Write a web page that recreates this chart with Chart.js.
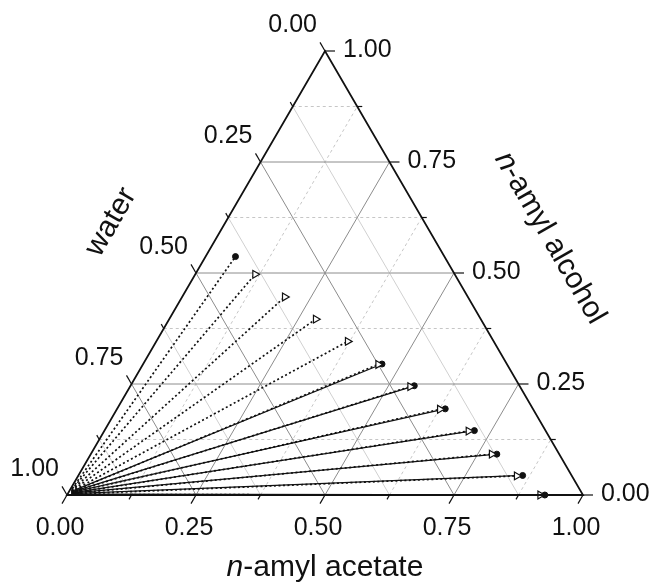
<!DOCTYPE html>
<html>
<head>
<meta charset="utf-8">
<script src="https://cdn.jsdelivr.net/npm/chart.js@4/dist/chart.umd.min.js"></script>
<style>
  html, body { margin: 0; padding: 0; background: #fff; }
  #wrap { width: 652px; height: 585px; position: relative; }
</style>
</head>
<body>
<div id="wrap"><canvas id="ternary"></canvas></div>
<script>
// tie lines, top to bottom. mole fractions of n-amyl acetate / n-amyl alcohol
// organic phase, calculated (open triangles), null = not shown
const calcAcetate = [null, 0.116, 0.199, 0.284, 0.371, 0.456, 0.543, 0.626, 0.706, 0.777, 0.850, 0.917];
const calcAlcohol = [null, 0.497, 0.446, 0.396, 0.346, 0.294, 0.244, 0.193, 0.144, 0.092, 0.043, 0.000];
// organic phase, experimental (filled circles)
const expAcetate = [0.058, null, null, null, null, 0.463, 0.550, 0.636, 0.717, 0.787, 0.861, 0.926];
const expAlcohol = [0.537, null, null, null, null, 0.295, 0.246, 0.194, 0.145, 0.092, 0.044, 0.000];
// water-rich phase ends
const aqAcetate = [0.003, 0.003, 0.004, 0.004, 0.005, 0.005, 0.006, 0.006, 0.007, 0.007, 0.008, 0.008];
const aqAlcohol = [0.014, 0.012, 0.011, 0.009, 0.008, 0.007, 0.006, 0.005, 0.004, 0.003, 0.002, 0.001];

const majorTicks = [0, 0.25, 0.5, 0.75, 1];
const tickLabels = ['0.00', '0.25', '0.50', '0.75', '1.00'];
const minorTicks = [0.125, 0.375, 0.625, 0.875];

const SQ3 = Math.sqrt(3) / 2;
const toXY = (acet, alc) => ({ x: acet + alc / 2, y: alc * SQ3 });

const datasets = [];
calcAcetate.forEach((c, i) => {
    if (c === null) return;
    datasets.push({
        data: [toXY(aqAcetate[i], aqAlcohol[i]), toXY(c, calcAlcohol[i])],
        showLine: true, borderColor: '#111', borderWidth: 1.7, borderDash: [2, 2.5],
        pointRadius: 0, order: 2, clip: false
    });
});
expAcetate.forEach((c, i) => {
    if (c === null) return;
    const alone = calcAcetate[i] === null;
    datasets.push({
        data: [toXY(aqAcetate[i], aqAlcohol[i] + 0.001), toXY(c, expAlcohol[i])],
        showLine: true, borderColor: '#111', borderWidth: alone ? 1.7 : 1.3,
        borderDash: alone ? [2, 2.5] : [],
        pointRadius: 0, order: 2, clip: false
    });
});
datasets.push({
    data: calcAcetate.map((c, i) => c === null ? null : toXY(c, calcAlcohol[i])).filter(Boolean),
    pointStyle: 'triangle', rotation: 90, pointRadius: 4.5,
    backgroundColor: '#fff', borderColor: '#111', borderWidth: 1.2, order: 0, clip: false
});
datasets.push({
    data: expAcetate.map((c, i) => c === null ? null : toXY(c, expAlcohol[i])).filter(Boolean),
    pointStyle: 'circle', pointRadius: 3,
    backgroundColor: '#111', borderColor: '#111', borderWidth: 1, order: 1, clip: false
});

const FONT = '"Liberation Sans", Arial, sans-serif';

function line(ctx, a, b) {
    ctx.beginPath();
    ctx.moveTo(a[0], a[1]);
    ctx.lineTo(b[0], b[1]);
    ctx.stroke();
}

// axis title, centred at (x, y); an italic "n" prefix when given
function axisTitle(ctx, x, y, prefix, rest, angle) {
    ctx.save();
    ctx.translate(x, y);
    ctx.rotate(angle);
    ctx.textBaseline = 'middle';
    ctx.textAlign = 'left';
    ctx.font = 'italic 30px ' + FONT;
    const wn = prefix ? ctx.measureText(prefix).width : 0;
    ctx.font = '30px ' + FONT;
    const wr = ctx.measureText(rest).width;
    const x0 = -(wn + wr) / 2;
    if (prefix) {
        ctx.font = 'italic 30px ' + FONT;
        ctx.fillText(prefix, x0, 0);
        ctx.font = '30px ' + FONT;
    }
    ctx.fillText(rest, x0 + wn, 0);
    ctx.restore();
}

const ternaryFrame = {
    id: 'ternaryFrame',
    beforeDatasetsDraw(chart) {
        const { ctx, scales: { x, y } } = chart;
        const px = (acet, alc) => { const p = toXY(acet, alc); return [x.getPixelForValue(p.x), y.getPixelForValue(p.y)]; };
        ctx.save();
        ctx.lineWidth = 1;
        // minor grid
        minorTicks.forEach(v => {
            ctx.strokeStyle = '#c6c6c6';
            ctx.setLineDash([3, 3]);
            line(ctx, px(0, v), px(1 - v, v));
            line(ctx, px(v, 0), px(v, 1 - v));
            ctx.setLineDash([]);
            ctx.strokeStyle = '#d0d0d0';
            line(ctx, px(1 - v, 0), px(0, 1 - v));
        });
        // major grid
        ctx.strokeStyle = '#8c8c8c';
        [0.25, 0.5, 0.75].forEach(v => {
            line(ctx, px(0, v), px(1 - v, v));
            line(ctx, px(v, 0), px(v, 1 - v));
            line(ctx, px(1 - v, 0), px(0, 1 - v));
        });
        ctx.restore();
    },
    afterDatasetsDraw(chart) {
        const { ctx, scales: { x, y } } = chart;
        const px = (acet, alc) => { const p = toXY(acet, alc); return [x.getPixelForValue(p.x), y.getPixelForValue(p.y)]; };
        ctx.save();
        ctx.strokeStyle = '#111';
        ctx.lineWidth = 1.8;
        ctx.beginPath();
        const bl = px(0, 0), br = px(1, 0), top = px(0, 1);
        ctx.moveTo(bl[0], bl[1]); ctx.lineTo(br[0], br[1]); ctx.lineTo(top[0], top[1]); ctx.closePath();
        ctx.stroke();

        // ticks
        ctx.lineWidth = 1.2;
        const tick = (v, len) => {
            const b = px(v, 0), r = px(1 - v, v), l = px(0, 1 - v);
            line(ctx, b, [b[0] - 0.5 * len, b[1] + SQ3 * len]);
            line(ctx, r, [r[0] + len, r[1]]);
            line(ctx, l, [l[0] - 0.5 * len, l[1] - SQ3 * len]);
        };
        majorTicks.forEach(v => tick(v, 10));
        minorTicks.forEach(v => tick(v, 5));

        // tick labels
        ctx.fillStyle = '#111';
        ctx.font = '25px ' + FONT;
        ctx.textBaseline = 'middle';
        majorTicks.forEach((v, i) => {
            const b = px(v, 0), r = px(1 - v, v), l = px(0, 1 - v);
            ctx.textAlign = 'center';
            ctx.fillText(tickLabels[i], b[0] - 7, b[1] + 33);
            ctx.textAlign = 'left';
            ctx.fillText(tickLabels[i], r[0] + 18, r[1] - 1);
            ctx.textAlign = 'right';
            ctx.fillText(tickLabels[i], l[0] - 8, l[1] - 26);
        });

        // axis titles
        axisTitle(ctx, (bl[0] + br[0]) / 2, bl[1] + 73, 'n', '-amyl acetate', 0);
        axisTitle(ctx, top[0] - 214, top[1] + 171, '', 'water', -Math.PI / 3);
        axisTitle(ctx, top[0] + 225, top[1] + 187, 'n', '-amyl alcohol', Math.PI / 3);
        ctx.restore();
    }
};

new Chart(document.getElementById('ternary'), {
    type: 'scatter',
    data: { datasets },
    options: {
        responsive: true,
        maintainAspectRatio: false,
        animation: false,
        layout: { padding: { left: 67, right: 69, top: 51, bottom: 90 } },
        scales: {
            x: { type: 'linear', min: 0, max: 1, display: false },
            y: { type: 'linear', min: 0, max: SQ3, display: false }
        },
        plugins: { legend: { display: false }, tooltip: { enabled: false } }
    },
    plugins: [ternaryFrame]
});
</script>
</body>
</html>
